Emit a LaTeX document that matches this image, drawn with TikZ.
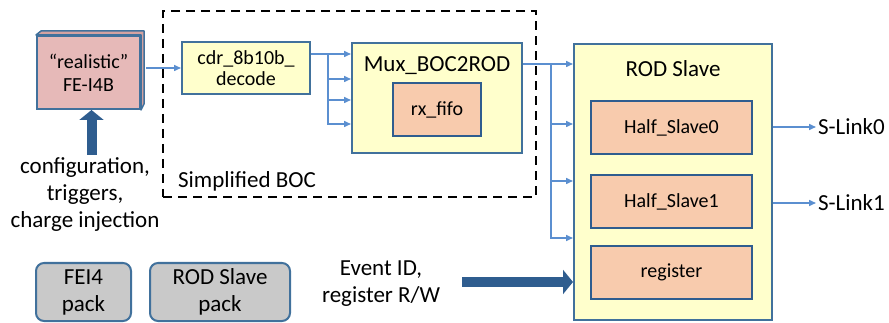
\documentclass[tikz,border=0pt]{standalone}
\usepackage{fontspec}
\setmainfont{Carlito}
\usetikzlibrary{arrows.meta}

\definecolor{boxblue}{HTML}{41719C}
\definecolor{linkblue}{HTML}{5B8FD0}
\definecolor{fatblue}{HTML}{2F5D8F}
\definecolor{feipink}{HTML}{E6B9B8}
\definecolor{feiside}{HTML}{D4A2A1}
\definecolor{modyellow}{HTML}{FFFFCC}
\definecolor{subpeach}{HTML}{F8CBAD}
\definecolor{packgray}{HTML}{C9C9C9}

\newcommand\bigtxt{\fontsize{23}{27}\selectfont}
\newcommand\smalltxt{\fontsize{20}{23}\selectfont}

\tikzset{
  blk/.style={draw=boxblue, line width=2pt, inner sep=0pt, align=center},
  modbox/.style={blk, fill=modyellow, font=\smalltxt},
  subbox/.style={blk, draw=fatblue, fill=subpeach, font=\smalltxt},
  packbox/.style={blk, fill=packgray, rounded corners=8pt, font=\bigtxt},
  lbl/.style={inner sep=2pt, align=center, font=\bigtxt},
  wire/.style={draw=linkblue, line width=1.5pt},
  link/.style={wire, -{Triangle[length=7pt,width=6pt]}},
  fat/.style={draw=fatblue, line width=10pt, -{Triangle[length=10pt,width=24pt]}}
}

\begin{document}
\begin{tikzpicture}[x=1pt, y=-1pt]
        \useasboundingbox (0,0) rectangle (889,323);

        \node[draw, line width=2pt, dash pattern=on 9pt off 6pt, minimum width=373pt, minimum height=186pt] (boc) at (349.5,104) {};
        \node[lbl] (boclbl) at (247,181) {Simplified BOC};

        \begin{scope}[every node/.style={modbox}]
            \node[fill=feipink, minimum width=103pt, minimum height=73pt] (fe) at (88.5,72.5) {“realistic”\\FE-I4B};
            \node[minimum width=128pt, minimum height=52pt, font=\fontsize{20}{21}\selectfont] (cdr) at (246,68) {cdr\_8b10b\_\\decode};
            \node[minimum width=170pt, minimum height=110pt] (mux) at (437,98) {};
            \node[minimum width=198pt, minimum height=276pt] (rod) at (673,182) {};
        \end{scope}
        \fill[feiside, draw=boxblue, line width=1.5pt, line join=round] (fe.north west) -- ++(5,-4) -- ++(103,0) -- ++(0,73) -- (fe.south east) -- (fe.north east) -- cycle;

        \node[lbl] (muxlbl) at (437,66) {Mux\_BOC2ROD};
        \node[lbl] (rodlbl) at (673,69) {ROD Slave};

        \begin{scope}[every node/.style={subbox, minimum height=53pt}]
            \node[minimum width=88pt] (fifo) at (437,109.5) {rx\_fifo};
            \node[minimum width=161pt] (hs0) at (671.5,127.5) {Half\_Slave0};
            \node[minimum width=161pt] (hs1) at (671.5,201.5) {Half\_Slave1};
            \node[minimum width=161pt] (reg) at (671.5,272.5) {register};
        \end{scope}

        \begin{scope}[every node/.style={packbox, minimum height=58pt}]
            \node[minimum width=95pt] (feipack) at (83.5,292) {FEI4\\pack};
            \node[minimum width=140pt] (rodpack) at (220,292) {ROD Slave\\pack};
        \end{scope}

        \node[lbl] (cfg) at (85,195) {configuration,\\triggers,\\charge injection};
        \node[lbl] (evt) at (381,284) {Event ID,\\register R/W};
        \node[lbl, anchor=west] (sl0) at (816,127) {S-Link0};
        \node[lbl, anchor=west] (sl1) at (816,203) {S-Link1};

        \coordinate (split1) at (328,54);
        \coordinate (split2) at (551,64);
        \coordinate (cfgout) at (91.5,155);
        \coordinate (evtin) at (462,282);

        \path ([xshift=5pt]fe.east |- cdr.west) edge[link] (cdr.west);
        \path (cdr.east |- split1) edge[wire] (split1);
        \foreach \y in {54,79,100,124}
            \draw[link] (split1) |- (mux.west |- 0,\y);
        \path (mux.east |- split2) edge[wire] (split2);
        \foreach \y in {64,124,181,238}
            \draw[link] (split2) |- (rod.west |- 0,\y);
        \path (rod.east |- sl0) edge[link] (sl0.west);
        \path (rod.east |- sl1) edge[link] (sl1.west);

        \path (cfgout) edge[fat] (fe.south -| cfgout);
        \path (evtin) edge[fat] (rod.west |- evtin);
\end{tikzpicture}
\end{document}
